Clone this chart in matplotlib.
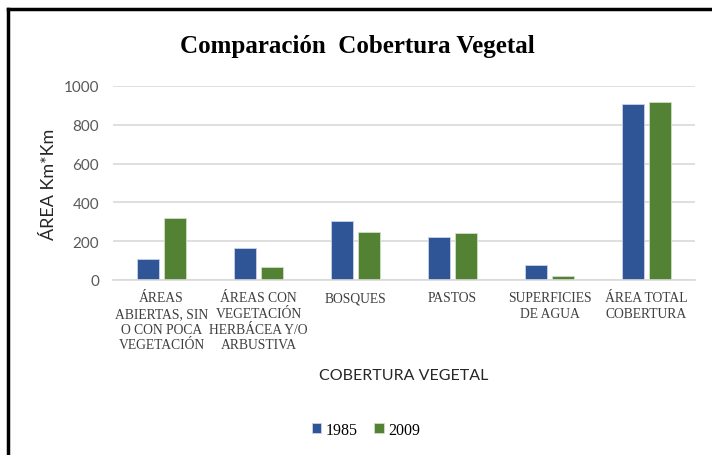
import numpy as np
import matplotlib.pyplot as plt
from matplotlib.lines import Line2D

categorias = ["ÁREAS\nABIERTAS, SIN\nO CON POCA\nVEGETACIÓN",
              "ÁREAS CON\nVEGETACIÓN\nHERBÁCEA Y/O\nARBUSTIVA",
              "BOSQUES",
              "PASTOS",
              "SUPERFICIES\nDE AGUA",
              "ÁREA TOTAL\nCOBERTURA"]
area_1985 = [106, 166, 306, 220, 76, 906]
area_2009 = [318, 68, 246, 240, 19, 915]
yticks = [0, 200, 400, 600, 800, 1000]

azul = "#2F5597"
verde = "#548235"
gris = "#595959"

fig = plt.figure(figsize=(7.12, 4.56), dpi=100)
ax = fig.add_axes([113/712, 1 - 281/456, (695-113)/712, (281-87)/456])

x = np.arange(len(categorias))
w = 0.22
ax.bar(x - 0.14, area_1985, w, color=azul, edgecolor="#c9d3e8", linewidth=0.6, label="1985")
ax.bar(x + 0.14, area_2009, w, color=verde, edgecolor="#cfe0c3", linewidth=0.6, label="2009")

ax.set_xlim(-0.5, len(categorias) - 0.5)
ax.set_ylim(0, 1000)
ax.set_yticks(yticks)
ax.yaxis.grid(True, color="#d9d9d9", linewidth=1.2)
ax.set_axisbelow(True)
for s in ["top", "right", "left"]:
    ax.spines[s].set_visible(False)
ax.spines["bottom"].set_color("#d9d9d9")
ax.spines["bottom"].set_linewidth(1.2)
ax.tick_params(length=0)
ax.tick_params(axis="y", labelsize=11, labelcolor=gris, pad=10)
for lab in ax.get_yticklabels():
    lab.set_family("Lato")

ax.set_xticks(x)
ax.set_xticklabels(categorias, family="Liberation Serif", fontsize=9.8,
                   color="#404040", linespacing=1.27, va="top")
ax.tick_params(axis="x", pad=8)

ax.set_ylabel("ÁREA Km*Km", family="Lato", fontsize=13, color="#262626", labelpad=5)
fig.text(404/712, 1 - 376/456, "COBERTURA VEGETAL", family="Lato", fontsize=11.5,
         color="#262626", ha="center", va="center")
fig.text(357/712, 1 - 47/456, "Comparación  Cobertura Vegetal", family="Liberation Serif",
         fontsize=18, weight="bold", ha="center", va="center")

fig.legend(loc="center", bbox_to_anchor=(366/712, 1 - 431/456), ncol=2, frameon=False,
           prop={"family": "Liberation Serif", "size": 11.5}, handlelength=0.6,
           handleheight=0.6, handletextpad=0.3, columnspacing=1.0)

# marco del gráfico
fig.add_artist(Line2D([8/712, 8/712], [0, 1 - 10/456], color="black", linewidth=2.5,
                      transform=fig.transFigure))
fig.add_artist(Line2D([8/712, 1], [1 - 10/456, 1 - 10/456], color="black", linewidth=2.5,
                      transform=fig.transFigure))

fig.savefig("out.png", dpi=100)
